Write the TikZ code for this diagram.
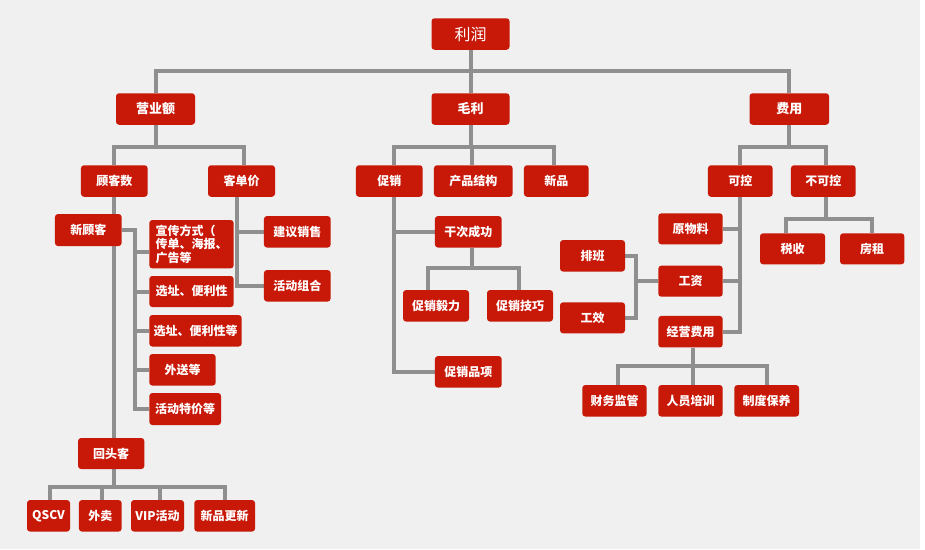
\documentclass[tikz,border=0pt]{standalone}
\usepackage{fontspec}
\setmainfont{Noto Sans CJK SC}
\usetikzlibrary{positioning}

\definecolor{boxred}{RGB}{200,24,8}
\definecolor{linegray}{RGB}{143,143,143}
\definecolor{pagegray}{RGB}{240,240,240}

\pgfdeclarelayer{bg}
\pgfdeclarelayer{lines}
\pgfsetlayers{bg,lines,main}

\begin{document}
\begin{tikzpicture}[x=1pt, y=-1pt,
    box/.style={fill=boxred, rounded corners=3pt, text=white, inner sep=0pt,
        minimum height=31.5pt, font=\bfseries\fontsize{12}{13.5}\selectfont},
    bigbox/.style={box, font=\bfseries\fontsize{13}{15}\selectfont},
    link/.style={draw=linegray, line width=4pt}]
    \useasboundingbox (0,0) rectangle (925,549);
    \begin{pgfonlayer}{bg}
        \fill[pagegray] (0,0) rectangle (920,549);
    \end{pgfonlayer}

    % top levels
    \node[box, minimum width=78pt, font=\fontsize{16}{18}\selectfont] (lirun) at (470.5,34) {利润};
    \node[bigbox, minimum width=79pt] (yingye) at (155.5,109) {营业额};
    \node[bigbox, minimum width=78pt] (maoli) at (470.5,109) {毛利};
    \node[bigbox, minimum width=79.5pt] (feiyong) at (789.3,109) {费用};

    \node[box, minimum width=66.7pt] (guke) at (114.3,181) {顾客数};
    \node[box, minimum width=67pt] (kedan) at (241.5,181) {客单价};
    \node[box, minimum width=66.7pt] (cuxiao) at (389.3,181) {促销};
    \node[box, minimum width=78.7pt] (chanpin) at (473.3,181) {产品结构};
    \node[box, minimum width=64.7pt] (xinpin) at (556.3,181) {新品};
    \node[box, minimum width=64.7pt] (kekong) at (740.3,181) {可控};
    \node[box, minimum width=64.7pt] (bukekong) at (823.3,181) {不可控};

    % 营业额 side
    \node[box, minimum width=66.7pt, minimum height=32pt] (xingu) at (88.3,230) {新顾客};
    \node[box, minimum width=84.4pt, minimum height=48.3pt, align=left] (xuanchuan) at (191.5,244.2) {宣传方式（\\传单、海报、\\广告等};
    \node[box, minimum width=84.4pt, minimum height=31pt] (xuanzhi1) at (191.5,291.5) {选址、便利性};
    \node[box, minimum width=92.4pt] (xuanzhi2) at (195.5,330.8) {选址、便利性等};
    \node[box, minimum width=66.4pt] (waisong) at (182.5,369.8) {外送等};
    \node[box, minimum width=71.7pt, minimum height=32pt] (tejia) at (185.2,409) {活动特价等};
    \node[box, minimum width=66.7pt] (jianyi) at (297.3,231.8) {建议销售};
    \node[box, minimum width=66.7pt] (huodong) at (297.3,285.8) {活动组合};
    \node[box, minimum width=66.3pt, minimum height=31pt] (huitou) at (111.2,453.5) {回头客};
    \node[box, minimum width=43pt] (qscv) at (48.5,515.8) {QSCV};
    \node[box, minimum width=42.7pt] (waimai) at (100.3,515.8) {外卖};
    \node[box, minimum width=53pt] (vip) at (157.5,515.8) {VIP活动};
    \node[box, minimum width=60.7pt] (xinpingx) at (224.7,515.8) {新品更新};

    % 毛利 side
    \node[box, minimum width=66.7pt] (qianci) at (468.3,231.8) {干次成功};
    \node[box, minimum width=66pt] (yili) at (436,305.8) {促销毅力};
    \node[box, minimum width=66pt] (jiqiao) at (520,305.8) {促销技巧};
    \node[box, minimum width=66.7pt] (cuxiaopx) at (468.3,371.8) {促销品项};

    % 费用 side
    \node[box, minimum width=64.4pt, minimum height=31pt] (yuanwuliao) at (690.5,228.8) {原物料};
    \node[box, minimum width=64.4pt, minimum height=31pt] (gongzi) at (690.5,281.2) {工资};
    \node[box, minimum width=64.4pt] (jingying) at (690.5,331.7) {经营费用};
    \node[box, minimum width=65pt] (paiban) at (592.5,255.8) {排班};
    \node[box, minimum width=65pt, minimum height=31pt] (gongxiao) at (592.5,317.8) {工效};
    \node[box, minimum width=64.4pt] (caiwu) at (614.5,400.8) {财务监管};
    \node[box, minimum width=64.4pt] (renyuan) at (690.5,400.8) {人员培训};
    \node[box, minimum width=64.7pt] (zhidu) at (766.7,400.8) {制度保养};
    \node[box, minimum width=65pt, minimum height=31pt] (shuishou) at (792.5,248.8) {税收};
    \node[box, minimum width=64.3pt, minimum height=31pt] (fangzu) at (872.2,248.8) {房租};

    % Draw edges
    \begin{pgfonlayer}{lines}
        \draw[link] (lirun.south) -- (maoli.north);
        \draw[link] (yingye.north) -- ++(0,-21.8) -| (feiyong.north);
        \draw[link] (yingye.south) -- ++(0,22);
        \draw[link] (maoli.south) -- ++(0,22);
        \draw[link] (feiyong.south) -- ++(0,22);

        \draw[link] (guke.north) -- ++(0,-18) -| ([xshift=2.5pt]kedan.north);
        \draw[link] ([xshift=4.7pt]cuxiao.north) -- ++(0,-18) -| ([xshift=-2.6pt]xinpin.north);
        \draw[link] ([xshift=-1.6pt]chanpin.north) -- ++(0,-18);
        \draw[link] (kekong.north) -- ++(0,-18) -| ([xshift=2.4pt]bukekong.north);

        \draw[link] (guke.south) -- (guke.south |- huitou.north);
        \draw[link] (xingu.east) -- ++(13.3,0) |- (tejia.west);
        \draw[link] ([yshift=-7.5pt]xuanchuan.west) -- ++(-14.3,0);
        \foreach \n in {xuanzhi1,xuanzhi2,waisong}
            \draw[link] (\n.west) -- ++(-14.3,0);
        \draw[link] ([xshift=-4.8pt]kedan.south) |- (huodong.west);
        \draw[link] (jianyi.west) -- ++(-27.3,0);

        \draw[link] ([xshift=2.8pt]huitou.south) -- ++(0,17.7);
        \draw[link] ([xshift=1.5pt]qscv.north) -- ++(0,-13.3) -| ([xshift=0.3pt]xinpingx.north);
        \draw[link] ([xshift=1.4pt]waimai.north) -- ++(0,-13.3);
        \draw[link] ([xshift=2.5pt]vip.north) -- ++(0,-13.3);

        \draw[link] ([xshift=4.7pt]cuxiao.south) |- (cuxiaopx.west);
        \draw[link] (qianci.west) -- ++(-41,0);
        \draw[link] ([xshift=3.4pt]qianci.south) -- ++(0,20.6);
        \draw[link] ([xshift=-8pt]yili.north) -- ++(0,-21.7) -| ([xshift=-1pt]jiqiao.north);

        \draw[link] (kekong.south) |- (jingying.east);
        \draw[link] (yuanwuliao.east) -- ++(17.6,0);
        \draw[link] (gongzi.east) -- ++(17.6,0);
        \draw[link] (paiban.east) -- ++(11,0) |- (gongxiao.east);
        \draw[link] (gongzi.west) -- ++(-22.3,0);
        \draw[link] ([xshift=2.2pt]jingying.south) -- ++(0,18.4);
        \draw[link] ([xshift=3.8pt]caiwu.north) -- ++(0,-19.3) -| (zhidu.north);
        \draw[link] ([xshift=2.2pt]renyuan.north) -- ++(0,-19.3);
        \draw[link] ([xshift=2.4pt]bukekong.south) -- ++(0,22.3);
        \draw[link] ([xshift=-6.8pt]shuishou.north) -- ++(0,-14.3) -| (fangzu.north);
    \end{pgfonlayer}
\end{tikzpicture}
\end{document}
